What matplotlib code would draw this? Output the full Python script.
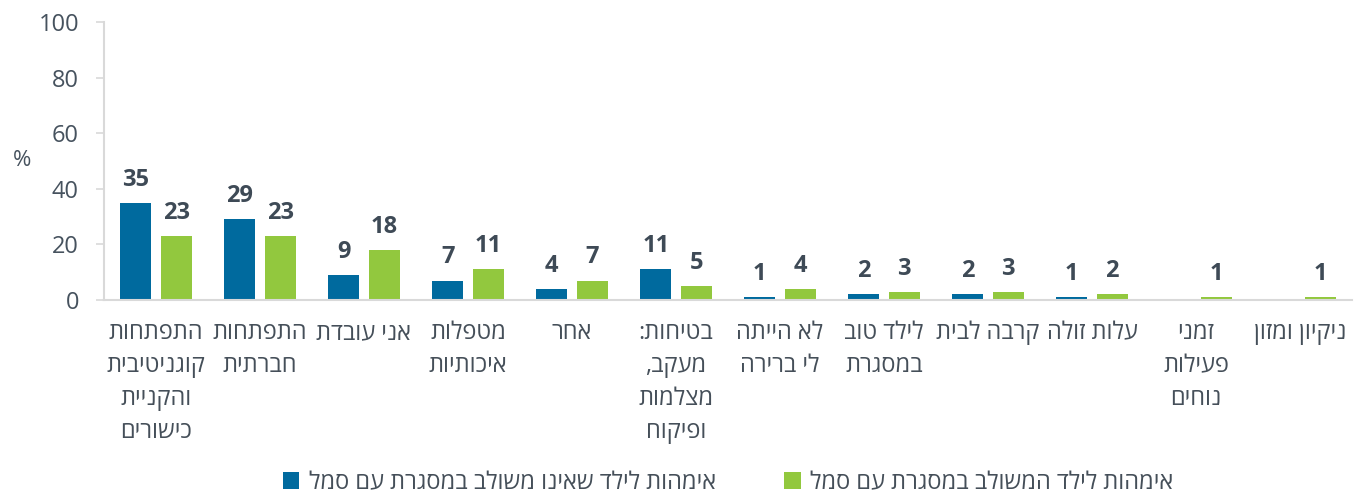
import numpy as np
import matplotlib
matplotlib.use("Agg")
import matplotlib.pyplot as plt

plt.rcParams['font.family'] = ['Open Sans', 'Liberation Sans', 'DejaVu Sans']

# ---------------------------
# data (Hebrew written in logical order, line breaks as in the original)
# ---------------------------
categories = [
    "התפתחות\nקוגניטיבית\nוהקניית\nכישורים",
    "התפתחות\nחברתית",
    "אני עובדת",
    "מטפלות\nאיכותיות",
    "אחר",
    "בטיחות:\nמעקב,\nמצלמות\nופיקוח",
    "לא הייתה\nלי ברירה",
    "לילד טוב\nבמסגרת",
    "קרבה לבית",
    "עלות זולה",
    "זמני\nפעילות\nנוחים",
    "ניקיון ומזון",
]
not_integrated = [35, 29, 9, 7, 4, 11, 1, 2, 2, 1, np.nan, np.nan]
integrated = [23, 23, 18, 11, 7, 5, 4, 3, 3, 2, 1, 1]

label_not_integrated = "אימהות לילד שאינו משולב במסגרת עם סמל"
label_integrated = "אימהות לילד המשולב במסגרת עם סמל"
y_ticks = [0, 20, 40, 60, 80, 100]


def rtl(s):
    # matplotlib has no bidi support: flip each line for display
    return "\n".join(line[::-1] for line in s.split("\n"))


blue = "#006a9e"
green = "#92c83e"
num_color = "#3e4a56"
txt_color = "#454f59"
axis_color = "#d9d9d9"

fig = plt.figure(figsize=(13.54, 4.95), dpi=100)
ax = fig.add_axes([104 / 1354, 1 - 300 / 495, 1248 / 1354, 278 / 495])

x = np.arange(len(categories))
w = 0.3
off = 0.195
b1 = ax.bar(x - off, not_integrated, width=w, color=blue, label=rtl(label_not_integrated))
b2 = ax.bar(x + off, integrated, width=w, color=green, label=rtl(label_integrated))

for bars, vals in ((b1, not_integrated), (b2, integrated)):
    for rect, v in zip(bars, vals):
        if np.isnan(v):
            continue
        ax.annotate(f"{v:g}", (rect.get_x() + rect.get_width() / 2, v),
                    xytext=(0, 8), textcoords="offset points",
                    ha="center", va="bottom", fontsize=17, fontweight="bold",
                    color=num_color)

ax.set_xlim(-0.5, len(categories) - 0.5)
ax.set_ylim(0, 100)
ax.set_yticks(y_ticks)
ax.set_xticks(x)
ax.set_xticklabels([rtl(c) for c in categories], fontsize=17, color=txt_color,
                   linespacing=1.5, va="top")
ax.tick_params(axis="x", length=0, pad=15)
ax.tick_params(axis="y", length=6, width=1.2, color=axis_color, labelsize=17,
               labelcolor="#46525e", pad=12)

for side in ("top", "right"):
    ax.spines[side].set_visible(False)
for side in ("left", "bottom"):
    ax.spines[side].set_color(axis_color)
    ax.spines[side].set_linewidth(1.5)

ax.set_ylabel("%", rotation=0, fontsize=16, color="#46525e", va="center", ha="center")
ax.yaxis.set_label_coords(-0.066, 0.5)

fig.legend(loc="center", bbox_to_anchor=(0.5377, 1 - 483 / 495), ncol=2,
           frameon=False, fontsize=17, labelcolor=txt_color,
           handlelength=0.7, handleheight=0.7, handletextpad=0.4,
           columnspacing=2.9)

fig.savefig("out.png", dpi=100)
